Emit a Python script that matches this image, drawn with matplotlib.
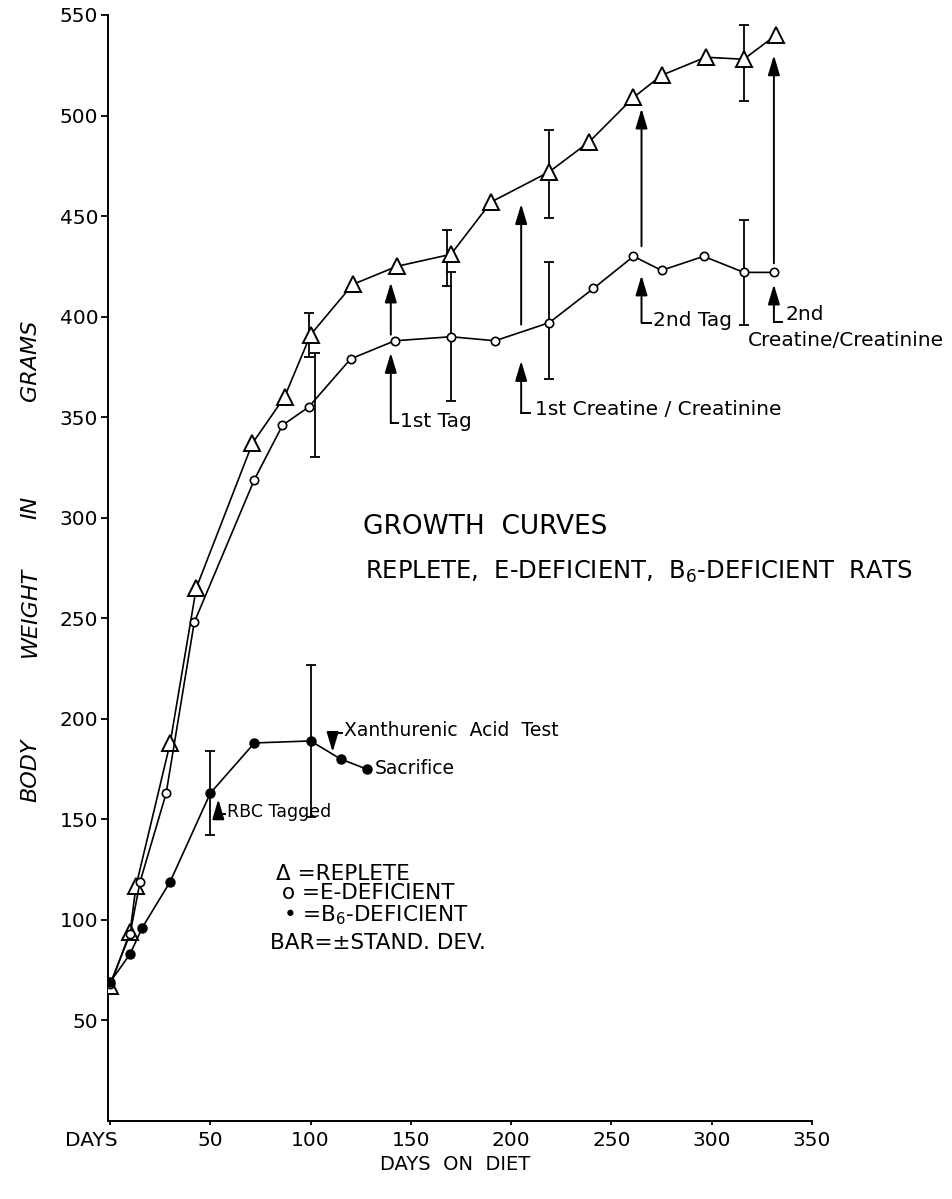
import matplotlib
matplotlib.use("Agg")
import matplotlib.pyplot as plt
from matplotlib.transforms import ScaledTranslation

# Replete rats (open triangles)
days_replete = [0, 10, 13, 30, 43, 71, 87, 100, 121, 143, 170, 190, 219, 239, 261, 275, 297, 316, 332]
wt_replete = [67, 94, 117, 188, 265, 337, 360, 391, 416, 425, 431, 457, 472, 487, 509, 520, 529, 528, 540]

# E-deficient rats (open circles)
days_edef = [0, 10, 15, 28, 42, 72, 86, 99, 120, 142, 170, 192, 219, 241, 261, 275, 296, 316, 331]
wt_edef = [68, 93, 119, 163, 248, 319, 346, 355, 379, 388, 390, 388, 397, 414, 430, 423, 430, 422, 422]

# B6-deficient rats (filled circles)
days_b6 = [0, 10, 16, 30, 50, 72, 100, 115, 128]
wt_b6 = [69, 83, 96, 119, 163, 188, 189, 180, 175]

# standard deviation bars
sd_replete_days = [99, 168, 219, 316]
sd_replete_mean = [391, 429, 471, 526]
sd_replete = [11, 14, 22, 19]

sd_edef_days = [102, 170, 219, 316]
sd_edef_mean = [356, 390, 398, 422]
sd_edef = [26, 32, 29, 26]

sd_b6_days = [50, 100]
sd_b6_mean = [163, 189]
sd_b6 = [21, 38]

y_ticks = list(range(50, 551, 50))
x_ticks = [0, 50, 100, 150, 200, 250, 300, 350]
x_ticklabels = ["DAYS", "50", "100", "150", "200", "250", "300", "350"]

fig = plt.figure(figsize=(9.52, 11.99), dpi=100)
ax = fig.add_axes([108 / 952, 1 - 1121 / 1199, 704 / 952, 1106 / 1199])

lw = 1.2
ax.plot(days_replete, wt_replete, color="black", lw=lw, marker="^", ms=11,
        mfc="white", mec="black", mew=1.4, zorder=3)
ax.plot(days_edef, wt_edef, color="black", lw=lw, marker="o", ms=6,
        mfc="white", mec="black", mew=1.2, zorder=3)
ax.plot(days_b6, wt_b6, color="black", lw=lw, marker="o", ms=6.5,
        mfc="black", mec="black", zorder=3)

for d, m, s in [(sd_replete_days, sd_replete_mean, sd_replete),
                (sd_edef_days, sd_edef_mean, sd_edef),
                (sd_b6_days, sd_b6_mean, sd_b6)]:
    ax.errorbar(d, m, yerr=s, fmt="none", ecolor="black", elinewidth=1.3,
                capsize=3.5, capthick=1.3, zorder=2)

ax.set_xlim(-1, 350)
ax.set_ylim(0, 550)
ax.set_yticks(y_ticks)
ax.set_xticks(x_ticks)
ax.set_xticklabels(x_ticklabels)
ax.spines["top"].set_visible(False)
ax.spines["right"].set_visible(False)
for s in ("left", "bottom"):
    ax.spines[s].set_linewidth(1.4)
ax.tick_params(axis="y", direction="out", length=5, width=1.3, labelsize=14.5, pad=2)
ax.tick_params(axis="x", direction="out", length=3, width=1.3, labelsize=14.5, pad=4)
days_lbl = ax.get_xticklabels()[0]
days_lbl.set_ha("right")
days_lbl.set_transform(days_lbl.get_transform() + ScaledTranslation(8 / 100, 0, fig.dpi_scale_trans))


def arrow(x, tail, head):
    ax.annotate("", xy=(x, head), xytext=(x, tail),
                arrowprops=dict(arrowstyle="-|>,head_length=0.6,head_width=0.18",
                                mutation_scale=20, lw=1.4, color="black",
                                shrinkA=0, shrinkB=0))


def bracket_arrow(x, bottom, head, x_end):
    arrow(x, bottom, head)
    ax.plot([x, x_end], [bottom, bottom], color="black", lw=1.4)


fs = 14.5
# 1st Tag
arrow(140, 391, 417)
bracket_arrow(140, 347, 382, 143.5)
ax.text(144.5, 348, "1st Tag", fontsize=fs, va="center")
# 1st Creatine/Creatinine
arrow(205, 396, 456)
bracket_arrow(205, 352, 378, 209.5)
ax.text(212, 354, "1st Creatine / Creatinine", fontsize=fs, va="center")
# 2nd Tag
arrow(265, 435, 503.5)
bracket_arrow(265, 397, 420.5, 269.5)
ax.text(270.5, 398, "2nd Tag", fontsize=fs, va="center")
# 2nd Creatine/Creatinine
arrow(331, 426.5, 530)
bracket_arrow(331, 397.5, 416, 335)
ax.text(337, 401, "2nd", fontsize=fs, va="center")
ax.text(318, 388, "Creatine/Creatinine", fontsize=fs, va="center")

# B6 annotations
arrow(111, 193, 183.5)
ax.plot([111, 115.5], [193, 193], color="black", lw=1.4)
ax.text(116.5, 194, "Xanthurenic  Acid  Test", fontsize=13.5, va="center")
ax.text(132, 175.5, "Sacrifice", fontsize=13.5, va="center")
bracket_arrow(54, 152.5, 160, 57.5)
ax.text(58.5, 153.5, "RBC Tagged", fontsize=12.5, va="center")

# titles
ax.text(126, 295.5, "GROWTH  CURVES", fontsize=19, va="center")
ax.text(127, 273, "REPLETE,  E-DEFICIENT,  B$_6$-DEFICIENT  RATS", fontsize=17.5, va="center")

# key
key_fs = 15.5
ax.text(83, 123, "\u0394 =REPLETE", fontsize=key_fs, va="center")
ax.text(86, 113.3, "o =E-DEFICIENT", fontsize=key_fs, va="center")
ax.text(86.5, 102.4, "\u2022 =B$_6$-DEFICIENT", fontsize=key_fs, va="center")
ax.text(80, 88.5, "BAR=\u00b1STAND. DEV.", fontsize=key_fs, va="center")

fig.text(455 / 952, 1 - 1165 / 1199, "DAYS  ON  DIET", fontsize=14, ha="center", va="center")
for word, yc in [("BODY", 770), ("WEIGHT", 612), ("IN", 507), ("GRAMS", 360)]:
    fig.text(30 / 952, 1 - yc / 1199, word, fontsize=16, style="italic",
             rotation=90, ha="center", va="center")

fig.savefig("out.png", dpi=100)
